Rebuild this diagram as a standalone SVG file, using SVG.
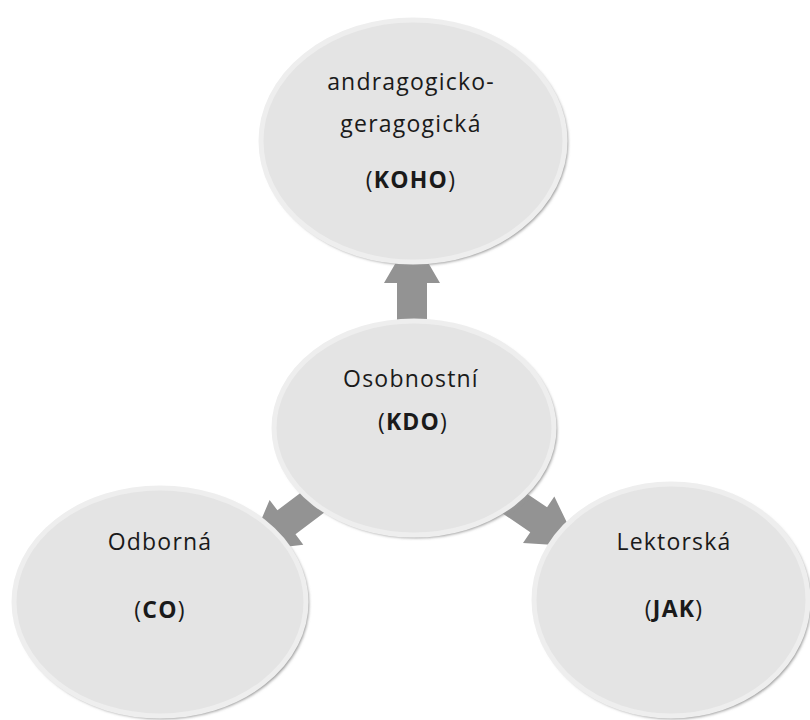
<svg xmlns="http://www.w3.org/2000/svg" width="810" height="720" viewBox="0 0 810 720">
<defs>
<style>
.shadow{fill:#959595;filter:url(#blur)}
.node{fill:#e4e4e4;stroke:#eeeeee;stroke-width:5}
.arrow{fill:#939393}
text{font-family:"Open Sans","Liberation Sans",sans-serif;font-size:23px;fill:#1a1a1a;text-anchor:middle;letter-spacing:1.2px}
.b{font-weight:bold}
</style>
<filter id="blur" x="-10%" y="-10%" width="120%" height="120%"><feGaussianBlur stdDeviation="1.5"/></filter>
<polygon id="arr" points="-15,15 15,15 15,-37 28,-37 0,-85 -28,-37 -15,-37"/>
</defs>
<rect width="810" height="720" fill="#ffffff"/>
<g id="connectors" class="arrow">
<use href="#arr" transform="translate(412,320)"/>
<use href="#arr" transform="translate(316,500) rotate(-127)"/>
<use href="#arr" transform="translate(508,499) rotate(124)"/>
</g>
<g id="node-top">
<ellipse class="shadow" cx="415" cy="143" rx="153" ry="122"/>
<ellipse class="node" cx="413" cy="141" rx="152" ry="121"/>
<text x="411" y="90">andragogicko-</text>
<text x="411" y="132">geragogická</text>
<text x="411" y="188">(<tspan class="b">KOHO</tspan>)</text>
</g>
<g id="node-center">
<ellipse class="shadow" cx="416" cy="430" rx="141" ry="108"/>
<ellipse class="node" cx="414" cy="428" rx="140" ry="107"/>
<text x="411" y="387">Osobnostní</text>
<text x="413" y="430">(<tspan class="b">KDO</tspan>)</text>
</g>
<g id="node-left">
<ellipse class="shadow" cx="162" cy="604" rx="147" ry="115"/>
<ellipse class="node" cx="160" cy="602" rx="146" ry="114"/>
<text x="160" y="550">Odborná</text>
<text x="160" y="618">(<tspan class="b">CO</tspan>)</text>
</g>
<g id="node-right">
<ellipse class="shadow" cx="673" cy="602" rx="138" ry="117"/>
<ellipse class="node" cx="671" cy="600" rx="137" ry="116"/>
<text x="674" y="550">Lektorská</text>
<text x="674" y="617">(<tspan class="b">JAK</tspan>)</text>
</g>
</svg>
